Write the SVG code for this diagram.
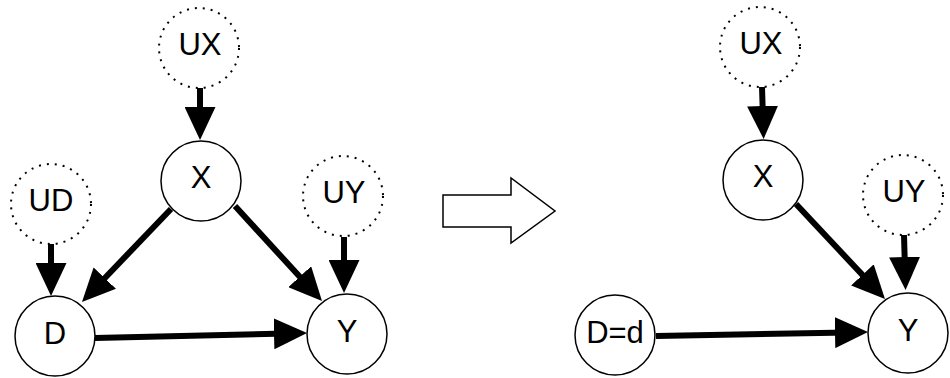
<svg xmlns="http://www.w3.org/2000/svg" width="950" height="378" viewBox="0 0 950 378">
<style>
.n{fill:#fff;stroke:#000;stroke-width:1.5}
.u{fill:#fff;stroke:#000;stroke-width:2;stroke-dasharray:2 6}
.t{font-family:"Liberation Sans",Arial,sans-serif;font-size:31px;fill:#000;text-anchor:middle}
.e{stroke:#000;stroke-width:6;fill:none;marker-end:url(#ah)}
</style>
<defs>
<marker id="ah" markerUnits="userSpaceOnUse" markerWidth="33" markerHeight="31" refX="13" refY="15.5" orient="auto">
<path d="M0,0 L33,15.5 L0,31 Z" fill="#000"/>
</marker>
</defs>
<rect width="950" height="378" fill="#fff"/>
<g id="connectors">
<line class="e" x1="200" y1="88" x2="200" y2="120"/>
<line class="e" x1="51" y1="244" x2="51" y2="276"/>
<line class="e" x1="344" y1="237" x2="344" y2="273"/>
<line class="e" x1="171" y1="209" x2="95.8" y2="287.5"/>
<line class="e" x1="235" y1="206" x2="308.5" y2="286.3"/>
<line class="e" x1="95" y1="338" x2="287" y2="333.5"/>
<line class="e" x1="762" y1="87" x2="763" y2="119"/>
<line class="e" x1="796" y1="204" x2="871.3" y2="284.4"/>
<line class="e" x1="904" y1="235" x2="905" y2="270"/>
<line class="e" x1="656" y1="336" x2="848" y2="332.4"/>
</g>
<g id="L-UX"><circle class="u" cx="199" cy="48" r="40"/><text class="t" x="200" y="55">UX</text></g>
<g id="L-X"><circle class="n" cx="201" cy="181" r="40"/><text class="t" x="201" y="188">X</text></g>
<g id="L-UD"><circle class="u" cx="51" cy="204" r="40"/><text class="t" x="51" y="211">UD</text></g>
<g id="L-UY"><circle class="u" cx="343" cy="196" r="40"/><text class="t" x="344" y="203">UY</text></g>
<g id="L-D"><circle class="n" cx="55" cy="336" r="40"/><text class="t" x="55" y="344">D</text></g>
<g id="L-Y"><circle class="n" cx="347" cy="334" r="40"/><text class="t" x="347" y="342">Y</text></g>
<g id="transform-arrow"><polygon points="443,195 511,195 511,178 555,211 511,243 511,227 443,227" fill="#fff" stroke="#000" stroke-width="1.5"/></g>
<g id="R-UX"><circle class="u" cx="760" cy="47" r="40"/><text class="t" x="761" y="54">UX</text></g>
<g id="R-X"><circle class="n" cx="763" cy="180" r="40"/><text class="t" x="763" y="187">X</text></g>
<g id="R-UY"><circle class="u" cx="903" cy="195" r="40"/><text class="t" x="904" y="202">UY</text></g>
<g id="R-D"><circle class="n" cx="615" cy="335" r="40"/><text class="t" x="615" y="343">D=d</text></g>
<g id="R-Y"><circle class="n" cx="908" cy="333" r="40"/><text class="t" x="908" y="341">Y</text></g>
</svg>
